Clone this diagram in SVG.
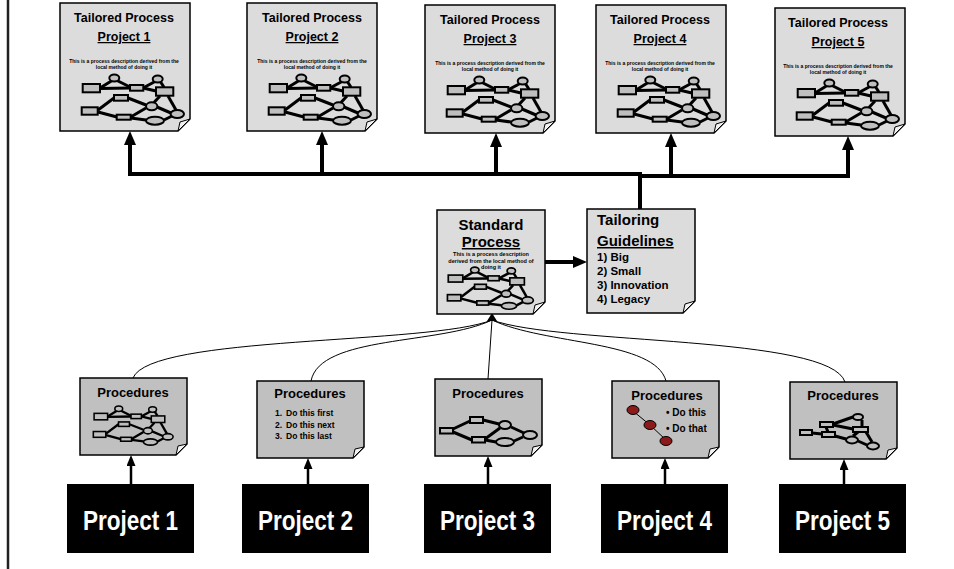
<svg xmlns="http://www.w3.org/2000/svg" xmlns:xlink="http://www.w3.org/1999/xlink" width="954" height="569" viewBox="0 0 954 569">
<style>
.doc { stroke:#000; stroke-width:1.5; }
.fold { fill:#f2f2f2; stroke:#000; stroke-width:1; }
.t { font-family:"Liberation Sans", Arial, sans-serif; font-weight:bold; fill:#000; }
.ul { text-decoration:underline; }
.net line { stroke:#000; stroke-width:3; stroke-linecap:butt; }
.net rect, .net ellipse { fill:#bfbfbf; stroke:#000; stroke-width:2; }
.thick { stroke:#000; stroke-width:4; fill:none; }
.thin { stroke:#000; stroke-width:2.5; fill:none; }
.curve { stroke:#000; stroke-width:1; fill:none; }
.proj { fill:#000; }
.pt { font-family:"Liberation Sans", Arial, sans-serif; font-weight:bold; fill:#fff; font-size:27px; }
</style>
<defs>
  <marker id="big" markerUnits="userSpaceOnUse" markerWidth="14" markerHeight="12" viewBox="0 0 14 12" refX="2" refY="6" orient="auto">
    <path d="M0,0 L14,6 L0,12 Z" fill="#000"/>
  </marker>
  <marker id="small" markerUnits="userSpaceOnUse" markerWidth="11" markerHeight="9" viewBox="0 0 11 9" refX="2" refY="4.5" orient="auto">
    <path d="M0,0 L11,4.5 L0,9 Z" fill="#000"/>
  </marker>
  <g id="docTop">
    <path class="doc" d="M0,0 H130 V116 L118,128 H0 Z"/>
    <path class="fold" d="M130,116 L118,128 L120,119 Z"/>
  </g>
  <g id="docMid">
    <path class="doc" d="M0,0 H108 V92 L96,104 H0 Z"/>
    <path class="fold" d="M108,92 L96,104 L98,95 Z"/>
  </g>
  <g id="docProc">
    <path class="doc" d="M0,0 H107 V66 L96,77 H0 Z"/>
    <path class="fold" d="M107,66 L96,77 L98,68 Z"/>
  </g>
  <g id="net" class="net">
    <line x1="20" y1="16" x2="33" y2="8"/>
    <line x1="36" y1="8" x2="50" y2="15"/>
    <line x1="20" y1="16.5" x2="50" y2="16"/>
    <line x1="63" y1="16" x2="76" y2="9"/>
    <line x1="80" y1="9" x2="84" y2="15.3"/>
    <line x1="63" y1="16" x2="76" y2="19"/>
    <line x1="18" y1="38" x2="34" y2="26"/>
    <line x1="18" y1="40" x2="37" y2="45"/>
    <line x1="48" y1="26" x2="66" y2="33"/>
    <line x1="50.7" y1="45" x2="66" y2="36"/>
    <line x1="50.7" y1="46" x2="66" y2="48"/>
    <line x1="77" y1="35" x2="91" y2="41"/>
    <line x1="84" y1="48" x2="92" y2="44"/>
    <line x1="80" y1="24" x2="74" y2="30.5"/>
    <line x1="88" y1="24" x2="96" y2="38"/>
    <ellipse cx="34.3" cy="6" rx="5" ry="3.5"/>
    <ellipse cx="77.7" cy="7" rx="5" ry="3.5"/>
    <rect x="2.7" y="12" width="17.3" height="8.3"/>
    <rect x="50" y="13" width="13.3" height="5.7"/>
    <rect x="76" y="15.3" width="17.3" height="8.4"/>
    <rect x="34" y="23" width="14" height="5.7"/>
    <rect x="1.7" y="35.3" width="16" height="7.4"/>
    <rect x="36.7" y="42.7" width="14" height="5"/>
    <ellipse cx="71.7" cy="34.3" rx="5.7" ry="4"/>
    <ellipse cx="75" cy="48.7" rx="9" ry="4"/>
    <ellipse cx="97.3" cy="42" rx="6.7" ry="4"/>
  </g>
</defs>

<line x1="8" y1="0" x2="8" y2="569" stroke="#222" stroke-width="2.5"/>

<g id="connectors">
  <path class="thick" d="M128,174 H642"/>
  <path class="thick" d="M638,176 H850"/>
  <path class="thick" d="M640,174 V209"/>
  <path class="thick" d="M130,174 V143" marker-end="url(#big)"/>
  <path class="thick" d="M322,174 V143" marker-end="url(#big)"/>
  <path class="thick" d="M496,174 V145" marker-end="url(#big)"/>
  <path class="thick" d="M671,176 V145" marker-end="url(#big)"/>
  <path class="thick" d="M848,176 V148" marker-end="url(#big)"/>
  <path class="thick" d="M545,262 H575" marker-end="url(#big)"/>
  <path class="curve" d="M492,320 C430,345 150,335 133,378"/>
  <path class="curve" d="M492,320 C440,345 320,335 311,381"/>
  <path class="curve" d="M492,320 L488,379"/>
  <path class="curve" d="M492,320 C545,345 655,340 666,381"/>
  <path class="curve" d="M492,320 C560,345 830,335 845,382"/>
  <polygon points="492,313 487,321 497,321" fill="#000"/>
  <path class="thin" d="M131,484 V464" marker-end="url(#small)"/>
  <path class="thin" d="M308,484 V467" marker-end="url(#small)"/>
  <path class="thin" d="M488,484 V465" marker-end="url(#small)"/>
  <path class="thin" d="M665,484 V467" marker-end="url(#small)"/>
  <path class="thin" d="M844,484 V468" marker-end="url(#small)"/>
</g>

<g id="tailored1">
  <use href="#docTop" x="60" y="3" fill="#dcdcdc"/>
  <text class="t" x="124" y="22" font-size="12.5" text-anchor="middle">Tailored Process</text>
  <text class="t ul" x="124" y="41" font-size="12.5" text-anchor="middle">Project 1</text>
  <text class="t" x="124" y="63" font-size="5" text-anchor="middle">This is a process description derived from the</text>
  <text class="t" x="124" y="69" font-size="5" text-anchor="middle">local method of doing it</text>
  <use href="#net" transform="translate(80,72)"/>
</g>
<g id="tailored2">
  <use href="#docTop" x="247" y="3" fill="#dcdcdc"/>
  <text class="t" x="312" y="22" font-size="12.5" text-anchor="middle">Tailored Process</text>
  <text class="t ul" x="312" y="41" font-size="12.5" text-anchor="middle">Project 2</text>
  <text class="t" x="312" y="63" font-size="5" text-anchor="middle">This is a process description derived from the</text>
  <text class="t" x="312" y="69" font-size="5" text-anchor="middle">local method of doing it</text>
  <use href="#net" transform="translate(267,72)"/>
</g>
<g id="tailored3">
  <use href="#docTop" x="425" y="5" fill="#dcdcdc"/>
  <text class="t" x="490" y="24" font-size="12.5" text-anchor="middle">Tailored Process</text>
  <text class="t ul" x="490" y="43" font-size="12.5" text-anchor="middle">Project 3</text>
  <text class="t" x="490" y="65" font-size="5" text-anchor="middle">This is a process description derived from the</text>
  <text class="t" x="490" y="71" font-size="5" text-anchor="middle">local method of doing it</text>
  <use href="#net" transform="translate(445,74)"/>
</g>
<g id="tailored4">
  <use href="#docTop" x="596" y="5" fill="#dcdcdc"/>
  <text class="t" x="660" y="24" font-size="12.5" text-anchor="middle">Tailored Process</text>
  <text class="t ul" x="660" y="43" font-size="12.5" text-anchor="middle">Project 4</text>
  <text class="t" x="660" y="65" font-size="5" text-anchor="middle">This is a process description derived from the</text>
  <text class="t" x="660" y="71" font-size="5" text-anchor="middle">local method of doing it</text>
  <use href="#net" transform="translate(616,74)"/>
</g>
<g id="tailored5">
  <use href="#docTop" x="775" y="8" fill="#dcdcdc"/>
  <text class="t" x="838" y="27" font-size="12.5" text-anchor="middle">Tailored Process</text>
  <text class="t ul" x="838" y="46" font-size="12.5" text-anchor="middle">Project 5</text>
  <text class="t" x="838" y="68" font-size="5" text-anchor="middle">This is a process description derived from the</text>
  <text class="t" x="838" y="74" font-size="5" text-anchor="middle">local method of doing it</text>
  <use href="#net" transform="translate(795,77)"/>
</g>

<g id="standard">
  <use href="#docMid" x="437" y="210" fill="#dcdcdc"/>
  <text class="t" x="491" y="230" font-size="15" text-anchor="middle">Standard</text>
  <text class="t ul" x="491" y="247" font-size="15" text-anchor="middle">Process</text>
  <text class="t" x="491" y="256" font-size="5.5" text-anchor="middle">This is a process description</text>
  <text class="t" x="491" y="262.5" font-size="5.5" text-anchor="middle">derived from the local method of</text>
  <text class="t" x="491" y="269" font-size="5.5" text-anchor="middle">doing it</text>
  <use href="#net" transform="translate(446,265) scale(0.84)"/>
</g>

<g id="guidelines">
  <use href="#docMid" x="587" y="209" fill="#dcdcdc"/>
  <text class="t" x="597" y="225" font-size="15">Tailoring</text>
  <text class="t ul" x="597" y="246" font-size="15">Guidelines</text>
  <text class="t" x="597" y="261" font-size="11.5">1) Big</text>
  <text class="t" x="597" y="275" font-size="11.5">2) Small</text>
  <text class="t" x="597" y="289" font-size="11.5">3) Innovation</text>
  <text class="t" x="597" y="303" font-size="11.5">4) Legacy</text>
</g>

<g id="procedures1">
  <use href="#docProc" x="80" y="378" fill="#c0c0c0"/>
  <text class="t" x="133" y="397" font-size="13" text-anchor="middle">Procedures</text>
  <use href="#net" transform="translate(92,404) scale(0.78)"/>
</g>
<g id="procedures2">
  <use href="#docProc" x="257" y="381" fill="#c0c0c0"/>
  <text class="t" x="310" y="398" font-size="13" text-anchor="middle">Procedures</text>
  <text class="t" x="275" y="416" font-size="8.5">1.</text>
  <text class="t" x="286" y="416" font-size="8.5">Do this first</text>
  <text class="t" x="275" y="427.5" font-size="8.5">2.</text>
  <text class="t" x="286" y="427.5" font-size="8.5">Do this next</text>
  <text class="t" x="275" y="439" font-size="8.5">3.</text>
  <text class="t" x="286" y="439" font-size="8.5">Do this last</text>
</g>
<g id="procedures3">
  <use href="#docProc" x="435" y="379" fill="#c0c0c0"/>
  <text class="t" x="488" y="398" font-size="13" text-anchor="middle">Procedures</text>
  <g class="net">
    <line x1="453" y1="429" x2="470" y2="421"/>
    <line x1="453" y1="432" x2="472" y2="440"/>
    <line x1="483" y1="420" x2="499" y2="424"/>
    <line x1="485" y1="439" x2="500" y2="428"/>
    <line x1="485" y1="440" x2="496" y2="442"/>
    <line x1="511" y1="427" x2="524" y2="433"/>
    <line x1="514" y1="441" x2="523" y2="437"/>
    <rect x="440" y="428" width="13" height="5.5"/>
    <rect x="470" y="417" width="13" height="6"/>
    <rect x="472" y="437" width="13" height="5.5"/>
    <ellipse cx="505" cy="425" rx="6" ry="4"/>
    <ellipse cx="505" cy="442" rx="9" ry="4"/>
    <ellipse cx="530" cy="435" rx="7" ry="4"/>
  </g>
</g>
<g id="procedures4">
  <use href="#docProc" x="612" y="381" fill="#c0c0c0"/>
  <text class="t" x="667" y="400" font-size="13" text-anchor="middle">Procedures</text>
  <line x1="633" y1="411" x2="650" y2="425" stroke="#000" stroke-width="1"/>
  <line x1="650" y1="425" x2="666" y2="440" stroke="#000" stroke-width="1"/>
  <ellipse cx="633" cy="410" rx="6" ry="4.5" fill="#8b1a1a" stroke="#000" stroke-width="1"/>
  <ellipse cx="650" cy="425" rx="6" ry="4.5" fill="#8b1a1a" stroke="#000" stroke-width="1"/>
  <ellipse cx="666" cy="441" rx="6" ry="4.5" fill="#8b1a1a" stroke="#000" stroke-width="1"/>
  <text class="t" x="666" y="416" font-size="10">• Do this</text>
  <text class="t" x="666" y="432" font-size="10">• Do that</text>
</g>
<g id="procedures5">
  <use href="#docProc" x="790" y="382" fill="#c0c0c0"/>
  <text class="t" x="843" y="400" font-size="13" text-anchor="middle">Procedures</text>
  <g class="net">
    <line x1="812" y1="433" x2="822" y2="434"/>
    <line x1="828" y1="432" x2="826" y2="427"/>
    <line x1="833" y1="424" x2="853" y2="417"/>
    <line x1="862" y1="420" x2="862" y2="427"/>
    <line x1="833" y1="425" x2="853" y2="429"/>
    <line x1="858" y1="432" x2="853" y2="436"/>
    <line x1="866" y1="432" x2="872" y2="442"/>
    <line x1="858" y1="441" x2="867" y2="445"/>
    <line x1="835" y1="436" x2="846" y2="439"/>
    <rect x="800" y="430" width="12" height="5"/>
    <rect x="822" y="432" width="13" height="5"/>
    <rect x="820" y="422" width="13" height="5"/>
    <rect x="853" y="427" width="15" height="5"/>
    <ellipse cx="858" cy="417" rx="5" ry="3"/>
    <ellipse cx="852" cy="440" rx="6" ry="3.5"/>
    <ellipse cx="873" cy="446" rx="6" ry="3.5"/>
  </g>
</g>

<g id="project1">
  <rect class="proj" x="67" y="484" width="127" height="69"/>
  <text class="pt" x="130.5" y="530" text-anchor="middle" textLength="95" lengthAdjust="spacingAndGlyphs">Project 1</text>
</g>
<g id="project2">
  <rect class="proj" x="242" y="484" width="127" height="69"/>
  <text class="pt" x="305.5" y="530" text-anchor="middle" textLength="95" lengthAdjust="spacingAndGlyphs">Project 2</text>
</g>
<g id="project3">
  <rect class="proj" x="424" y="484" width="127" height="69"/>
  <text class="pt" x="487.5" y="530" text-anchor="middle" textLength="95" lengthAdjust="spacingAndGlyphs">Project 3</text>
</g>
<g id="project4">
  <rect class="proj" x="601" y="484" width="127" height="69"/>
  <text class="pt" x="664.5" y="530" text-anchor="middle" textLength="95" lengthAdjust="spacingAndGlyphs">Project 4</text>
</g>
<g id="project5">
  <rect class="proj" x="779" y="484" width="127" height="69"/>
  <text class="pt" x="842.5" y="530" text-anchor="middle" textLength="95" lengthAdjust="spacingAndGlyphs">Project 5</text>
</g>
</svg>
